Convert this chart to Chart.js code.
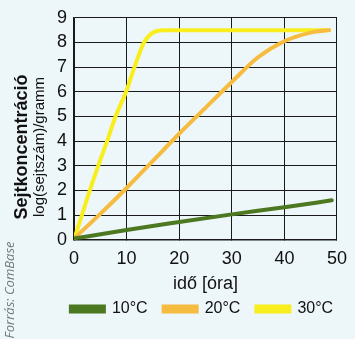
<!DOCTYPE html>
<html>
<head>
<meta charset="utf-8">
<script src="https://cdn.jsdelivr.net/npm/chart.js@4"></script>
<style>
  html, body { margin: 0; padding: 0; background: #edf6f8; }
  #wrap { width: 355px; height: 339px; }
</style>
</head>
<body>
<div id="wrap"><canvas id="graf"></canvas></div>
<script>
// idő [óra] és log(sejtszám)/gramm értékek
const ido10 = [0, 10, 20, 30, 40, 49];
const ertek10 = [0.05, 0.4, 0.72, 1.03, 1.32, 1.6];

const ido20 = [0, 5, 10, 15, 20, 25, 30, 35, 40, 45, 48.5];
const ertek20 = [0.05, 1.05, 2.1, 3.2, 4.3, 5.35, 6.4, 7.4, 8.05, 8.4, 8.5];

const ido30 = [0, 1.5, 3, 4.6, 6.3, 7.9, 9.9, 11.5, 13.3, 15, 17, 20, 30, 40, 48.5];
const ertek30 = [0, 1, 2, 3, 4, 5, 6, 7, 8, 8.4, 8.5, 8.5, 8.5, 8.5, 8.5];

const cimkek = ['10°C', '20°C', '30°C'];
const szinek = ['#4b7821', '#f5bc40', '#f8ee1e'];

const xTicks = [0, 10, 20, 30, 40, 50];
const yTicks = [0, 1, 2, 3, 4, 5, 6, 7, 8, 9];

const betu = "'Liberation Sans Narrow', 'Liberation Sans', sans-serif";

function pontok(xs, ys) {
    return xs.map(function (x, i) { return { x: x, y: ys[i] }; });
}

// Függőleges feliratok (tengelycím két sorban + forrás)
const feliratok = {
    id: 'feliratok',
    afterLayout: function (chart) {
        // jelmagyarázat a diagram közepe alá
        if (chart.legend) {
            chart.legend.left += 33;
            chart.legend.right += 33;
        }
    },
    afterDraw: function (chart) {
        const ctx = chart.ctx;
        ctx.save();
        ctx.translate(22, 147);
        ctx.rotate(-Math.PI / 2);
        ctx.textAlign = 'center';
        ctx.textBaseline = 'middle';
        ctx.fillStyle = '#111';
        ctx.font = 'bold 18px ' + betu;
        ctx.fillText('Sejtkoncentráció', 0, 0);
        ctx.font = '15px ' + betu;
        ctx.fillText('log(sejtszám)/gramm', 0, 18);
        ctx.restore();

        ctx.save();
        ctx.translate(10, 290);
        ctx.rotate(-Math.PI / 2);
        ctx.textAlign = 'center';
        ctx.textBaseline = 'middle';
        ctx.fillStyle = '#6f7a80';
        ctx.font = "italic 13px 'Open Sans', 'DejaVu Sans', sans-serif";
        ctx.fillText('Forrás: ComBase', 0, 0);
        ctx.restore();
    }
};

const ctx = document.getElementById('graf').getContext('2d');
new Chart(ctx, {
    type: 'line',
    data: {
        datasets: [
            { label: cimkek[0], data: pontok(ido10, ertek10), borderColor: szinek[0], backgroundColor: szinek[0] },
            { label: cimkek[1], data: pontok(ido20, ertek20), borderColor: szinek[1], backgroundColor: szinek[1] },
            { label: cimkek[2], data: pontok(ido30, ertek30), borderColor: szinek[2], backgroundColor: szinek[2] }
        ].map(function (d) {
            d.borderWidth = 4;
            d.pointRadius = 0;
            d.cubicInterpolationMode = 'monotone';
            d.borderCapStyle = 'round';
            return d;
        })
    },
    options: {
        responsive: true,
        maintainAspectRatio: false,
        animation: false,
        layout: { padding: { left: 0, right: 17, top: 16, bottom: 12 } },
        plugins: {
            legend: {
                position: 'bottom',
                labels: {
                    boxWidth: 33,
                    boxHeight: 5,
                    padding: 16,
                    color: '#111',
                    font: { family: betu, size: 16 }
                }
            },
            tooltip: { enabled: false }
        },
        scales: {
            x: {
                type: 'linear',
                min: 0, max: 50,
                afterBuildTicks: function (s) { s.ticks = xTicks.map(function (v) { return { value: v }; }); },
                grid: { color: '#1a1a1a', lineWidth: 1, tickLength: 0 },
                border: { color: '#1a1a1a', width: 1.5 },
                ticks: { autoSkip: false, maxRotation: 0, color: '#111', padding: 8, font: { family: betu, size: 18 } },
                title: { display: true, text: 'idő [óra]', color: '#111', padding: { top: -4, bottom: -10 }, font: { family: betu, size: 18 } }
            },
            y: {
                min: 0, max: 9,
                afterBuildTicks: function (s) { s.ticks = yTicks.map(function (v) { return { value: v }; }); },
                afterFit: function (s) { s.width = 74; },
                grid: { color: '#1a1a1a', lineWidth: 1, tickLength: 0 },
                border: { color: '#1a1a1a', width: 1.5 },
                ticks: { autoSkip: false, color: '#111', padding: 7, font: { family: betu, size: 18 } }
            }
        }
    },
    plugins: [feliratok]
});
</script>
</body>
</html>
